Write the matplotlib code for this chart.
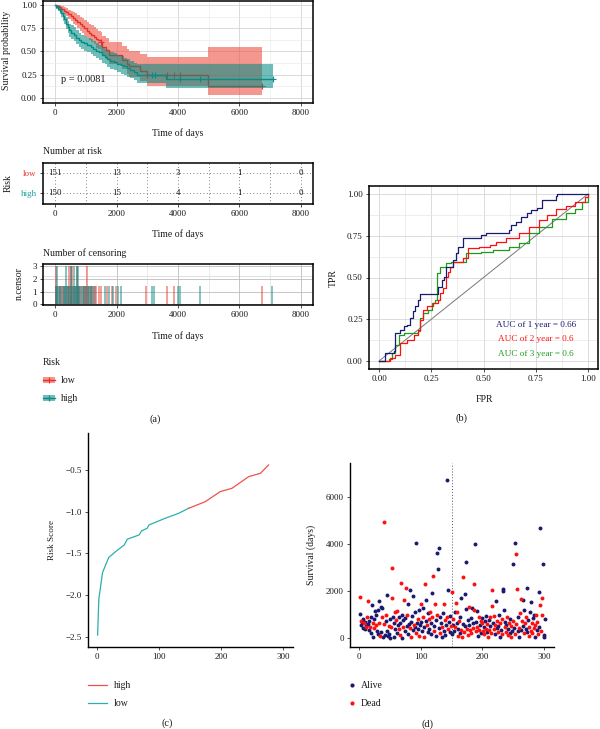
import numpy as np
import matplotlib
matplotlib.use('Agg')
import matplotlib.pyplot as plt
from matplotlib.patches import Rectangle
from matplotlib.lines import Line2D

plt.rcParams['font.family'] = ['Liberation Serif', 'DejaVu Serif']
plt.rcParams['font.size'] = 7
plt.rcParams['axes.unicode_minus'] = True

# ---------------- data: (a) Kaplan-Meier ----------------
low_t = [0, 60, 130, 200, 280, 350, 420, 500, 580, 650, 720, 800, 880, 950, 1020, 1100, 1180,
         1260, 1330, 1400, 1480, 1540, 1640, 1750, 2180, 2350, 2400, 2780, 3000, 4990]
low_s = [1.0, 0.99, 0.98, 0.96, 0.94, 0.92, 0.90, 0.88, 0.86, 0.84, 0.82, 0.79, 0.77, 0.75, 0.72,
         0.70, 0.68, 0.66, 0.63, 0.62, 0.60, 0.55, 0.52, 0.46, 0.41, 0.37, 0.34, 0.29, 0.25, 0.125]
low_up = [1.0, 1.0, 1.0, 0.99, 0.98, 0.97, 0.95, 0.94, 0.92, 0.91, 0.89, 0.87, 0.86, 0.84, 0.82,
          0.80, 0.78, 0.76, 0.74, 0.72, 0.71, 0.67, 0.64, 0.60, 0.56, 0.53, 0.51, 0.47, 0.44, 0.545]
low_lo = [1.0, 0.98, 0.96, 0.93, 0.90, 0.88, 0.85, 0.83, 0.80, 0.78, 0.75, 0.72, 0.70, 0.67, 0.64,
          0.62, 0.60, 0.58, 0.54, 0.53, 0.51, 0.45, 0.42, 0.36, 0.31, 0.26, 0.23, 0.18, 0.13, 0.03]
low_end = 6740

high_t = [0, 40, 90, 140, 190, 240, 290, 340, 400, 450, 520, 600, 680, 760, 850, 940, 1050, 1150,
          1240, 1320, 1430, 1530, 1620, 1700, 1800, 1910, 2020, 2130, 2240, 2350, 2450, 2560, 2670, 3600]
high_s = [1.0, 0.98, 0.96, 0.94, 0.91, 0.88, 0.85, 0.80, 0.76, 0.73, 0.70, 0.68, 0.65, 0.62, 0.60,
          0.59, 0.57, 0.55, 0.53, 0.51, 0.49, 0.46, 0.44, 0.42, 0.40, 0.39, 0.37, 0.355, 0.34, 0.32,
          0.30, 0.28, 0.25, 0.205]
high_up = [1.0, 1.0, 0.99, 0.98, 0.96, 0.94, 0.91, 0.87, 0.83, 0.80, 0.78, 0.76, 0.73, 0.70, 0.68,
           0.67, 0.65, 0.63, 0.61, 0.59, 0.57, 0.55, 0.53, 0.51, 0.49, 0.48, 0.46, 0.45, 0.43, 0.42,
           0.40, 0.38, 0.36, 0.37]
high_lo = [1.0, 0.96, 0.93, 0.90, 0.87, 0.83, 0.79, 0.74, 0.70, 0.66, 0.63, 0.61, 0.58, 0.55, 0.53,
           0.51, 0.49, 0.47, 0.45, 0.43, 0.41, 0.38, 0.36, 0.33, 0.31, 0.30, 0.28, 0.26, 0.25, 0.23,
           0.21, 0.19, 0.16, 0.107]
high_end = 7100

low_cens_marks = [1480, 3000, 3640, 3860, 4080, 6740]
high_cens_marks = [3160, 3250, 4060, 4730, 7100]
p_value_text = "p = 0.0081"

# number at risk
risk_times = [0, 2000, 4000, 6000, 8000]
risk_low = [151, 13, 3, 1, 0]
risk_high = [150, 15, 4, 1, 0]

# number of censoring
cens_low_t = [16, 450, 504, 558, 699, 1046,
              30, 90, 150, 200, 260, 300, 380, 420, 480, 530, 600, 650, 720, 760, 820, 870, 930,
              980, 1010, 1080, 1120, 1180, 1230, 1280, 1317, 1427, 1480, 1675, 1837, 1968, 2975,
              3648, 3865, 6736]
cens_low_n = [3, 3, 3, 3, 3, 3] + [1.45] * 34
cens_high_t = [70, 341, 504, 612, 699, 742,
               20, 60, 110, 170, 230, 280, 320, 360, 400, 460, 520, 570, 630, 680, 740, 790, 850,
               900, 950, 1000, 1060, 1100, 1150, 1200, 1260, 1620, 1750, 1892, 2043, 2130, 3160,
               3214, 4006, 4060, 4731, 7062]
cens_high_n = [3, 3, 3, 3, 3, 3] + [1.45] * 36

# ---------------- data: (b) ROC ----------------
fpr1 = [0.0, 0.029, 0.068, 0.076, 0.10, 0.116, 0.132, 0.148, 0.16, 0.17, 0.183, 0.195, 0.275,
        0.283, 0.299, 0.31, 0.322, 0.354, 0.37, 0.378, 0.402, 0.48, 0.489, 0.513, 0.624, 0.632,
        0.656, 0.679, 0.711, 0.727, 0.759, 0.783, 0.846, 0.854, 1.0]
tpr1 = [0.0, 0.046, 0.056, 0.166, 0.186, 0.206, 0.216, 0.256, 0.296, 0.326, 0.365, 0.40, 0.40,
        0.445, 0.485, 0.505, 0.565, 0.605, 0.645, 0.685, 0.735, 0.735, 0.755, 0.765, 0.785, 0.815,
        0.835, 0.865, 0.885, 0.905, 0.92, 0.968, 0.988, 1.0, 1.0]
fpr2 = [0.0, 0.037, 0.052, 0.076, 0.10, 0.132, 0.164, 0.187, 0.195, 0.211, 0.227, 0.259, 0.283,
        0.29, 0.306, 0.322, 0.33, 0.338, 0.354, 0.386, 0.402, 0.425, 0.48, 0.529, 0.56, 0.608,
        0.671, 0.719, 0.767, 0.806, 0.846, 0.894, 0.941, 0.989, 1.0]
tpr2 = [0.0, 0.0, 0.016, 0.036, 0.106, 0.126, 0.156, 0.186, 0.246, 0.306, 0.326, 0.346, 0.365,
        0.405, 0.435, 0.505, 0.535, 0.565, 0.595, 0.595, 0.615, 0.675, 0.685, 0.695, 0.715, 0.735,
        0.769, 0.805, 0.845, 0.874, 0.91, 0.93, 0.955, 0.985, 1.0]
fpr3 = [0.0, 0.045, 0.06, 0.076, 0.092, 0.116, 0.187, 0.195, 0.211, 0.235, 0.251, 0.267, 0.275,
        0.275, 0.29, 0.322, 0.346, 0.386, 0.418, 0.489, 0.544, 0.624, 0.671, 0.719, 0.767, 0.83,
        0.894, 0.941, 0.973, 1.0]
tpr3 = [0.0, 0.01, 0.046, 0.096, 0.156, 0.166, 0.176, 0.256, 0.286, 0.306, 0.346, 0.365, 0.405,
        0.525, 0.565, 0.585, 0.595, 0.595, 0.645, 0.655, 0.665, 0.685, 0.709, 0.765, 0.805, 0.849,
        0.889, 0.91, 0.955, 1.0]
auc_labels = ["AUC of 1 year = 0.66", "AUC of 2 year = 0.6", "AUC of 3 year = 0.6"]

# ---------------- data: (c) risk score ----------------
rs_x = [1, 3, 9, 14, 19, 30, 44, 49, 68, 72, 81, 84, 110, 132, 148,
        175, 199, 218, 245, 264, 277]
rs_y = [-2.48, -2.05, -1.73, -1.64, -1.55, -1.48, -1.40, -1.33, -1.28, -1.23, -1.20, -1.16,
        -1.08, -1.02, -0.96, -0.88, -0.76, -0.72, -0.58, -0.54, -0.44]
rs_split = 148

# ---------------- data: (d) survival status ----------------
surv_days = [
    1007, 1758, 560, 740, 680, 810, 430, 620, 380, 700,
    520, 450, 880, 600, 1588, 350, 720, 480, 910, 200,
    1404, 50, 660, 800, 420, 1150, 980, 560, 300, 1200,
    160, 1588, 640, 70, 260, 1300, 880, 1262, 40, 600,
    4949, 120, 720, 980, 300, 1815, 70, 520, 180, 0,
    800, 450, 1688, 2964, 880, 30, 620, 1100, 400, 760,
    200, 1163, 560, 380, 900, 120, 640, 2354, 20, 1000,
    480, 760, 1617, 300, 860, 2141, 520, 978, 150, 1446,
    600, 2028, 420, 700, 50, 940, 340, 1787, 560, 480,
    1100, 200, 4055, 640, 820, 380, 1200, 100, 560, 1446,
    680, 300, 1262, 900, 460, 60, 2297, 740, 1617, 560,
    1050, 240, 820, 400, 1120, 640, 180, 880, 1928, 2652,
    520, 300, 1446, 760, 100, 980, 3630, 2950, 420, 3829,
    907, 200, 640, 30, 480, 1050, 1446, 300, 760, 120,
    560, 880, 6750, 2042, 400, 700, 250, 940, 500, 180,
    1943, 560, 820, 300, 1120, 460, 1503, 1120, 640, 80,
    380, 720, 200, 900, 340, 1688, 40, 600, 2609, 260,
    1872, 500, 1220, 3233, 380, 760, 120, 1300, 560, 320,
    840, 200, 1260, 420, 660, 2283, 1191, 4013, 280, 700,
    1163, 460, 100, 880, 340, 560, 740, 200, 620, 860,
    300, 480, 160, 720, 400, 920, 260, 580, 60, 780,
    340, 500, 900, 200, 1361, 2042, 640, 380, 936, 150,
    560, 1588, 420, 720, 260, 500, 978, 30, 640, 340,
    820, 180, 2099, 2000, 1191, 460, 700, 240, 560, 900,
    120, 380, 660, 200, 820, 30, 500, 300, 740, 3148,
    420, 4041, 160, 3588, 600, 2099, 280, 880, 440, 60,
    1078, 1645, 340, 720, 500, 1617, 200, 1200, 620, 380,
    900, 2141, 260, 760, 100, 460, 1100, 300, 1546, 640,
    200, 840, 420, 1000, 60, 540, 980, 320, 700, 150,
    480, 1957, 4694, 1404, 280, 1688, 960, 3162, 40, 120,
    800]
dead = [
    0, 1, 0, 1, 0, 0, 0, 1, 0, 0,  0, 1, 1, 0, 1, 0, 0, 1, 0, 0,
    0, 0, 1, 0, 1, 0, 0, 1, 0, 0,  0, 0, 1, 1, 0, 0, 1, 0, 0, 1,
    1, 0, 0, 1, 0, 0, 0, 1, 0, 0,  0, 1, 1, 1, 0, 0, 0, 1, 0, 1,
    0, 1, 0, 1, 0, 1, 0, 1, 0, 0,  1, 0, 1, 0, 0, 1, 0, 1, 0, 0,
    0, 0, 1, 0, 1, 0, 0, 0, 1, 0,  0, 1, 0, 0, 1, 0, 0, 1, 0, 1,
    0, 0, 0, 1, 0, 1, 1, 0, 0, 1,  0, 0, 1, 0, 1, 0, 0, 1, 0, 1,
    0, 1, 1, 0, 0, 1, 0, 0, 0, 0,  0, 1, 0, 0, 1, 0, 1, 0, 1, 0,
    0, 1, 0, 0, 1, 0, 0, 0, 1, 0,  1, 0, 1, 0, 0, 1, 1, 1, 0, 1,
    0, 1, 0, 0, 1, 0, 1, 0, 1, 1,  0, 0, 0, 0, 1, 0, 1, 1, 0, 1,
    0, 1, 0, 1, 0, 1, 1, 0, 1, 0,  0, 1, 0, 1, 1, 0, 1, 0, 1, 0,
    1, 0, 1, 0, 1, 0, 0, 1, 1, 0,  1, 0, 1, 1, 1, 1, 0, 1, 1, 0,
    1, 0, 0, 1, 1, 0, 0, 0, 1, 0,  1, 1, 0, 0, 0, 1, 0, 1, 0, 1,
    1, 0, 1, 0, 0, 1, 1, 0, 1, 0,  0, 0, 1, 1, 1, 1, 0, 0, 1, 0,
    1, 1, 0, 1, 0, 0, 1, 0, 1, 0,  1, 0, 0, 0, 1, 1, 0, 1, 0, 1,
    1, 0, 1, 0, 0, 1, 1, 0, 1, 1,  0, 0, 0, 1, 1, 1, 1, 0, 0, 0,
    0]
cutoff_index = 150.5

# ---------------- style ----------------
RED_LINE = '#E8302A'
RED_FILL = '#ED5243'
TEAL_LINE = '#138A87'
TEAL_FILL = '#008C82'
NAVY = '#1A1A6E'
RED = '#FF1010'
GREEN = '#1E9A1E'
TXT = '#1a1a1a'
TICK = 6.5
LAB = 7

W, H = 600, 729
fig = plt.figure(figsize=(6, 7.29), dpi=100)


def add_ax(l, t, r, b):
    return fig.add_axes([l / W, 1 - b / H, (r - l) / W, (b - t) / H])


def tick_style(ax):
    ax.tick_params(axis='both', labelsize=TICK, length=2.5, width=0.6, pad=2,
                   colors='#333333', labelcolor=TXT)


def step_lookup(ts, ss, t):
    i = np.searchsorted(ts, t, side='right') - 1
    return ss[max(i, 0)]


# ---------- (a) KM ----------
ax1 = add_ax(43, 0.5, 312.8, 103)
ax1.set_xlim(-400, 8400)
ax1.set_ylim(-0.054, 1.048)
ax1.set_xticks([0, 2000, 4000, 6000, 8000])
ax1.set_xticks([1000, 3000, 5000, 7000], minor=True)
ax1.set_yticks([0, 0.25, 0.5, 0.75, 1.0])
ax1.set_yticks([0.125, 0.375, 0.625, 0.875], minor=True)
ax1.set_yticklabels(['0.00', '0.25', '0.50', '0.75', '1.00'])
ax1.grid(True, which='major', color='#d4d4d4', lw=0.6)
ax1.grid(True, which='minor', color='#ececec', lw=0.5)
ax1.tick_params(which='minor', length=0)
ax1.set_axisbelow(True)
tick_style(ax1)
for s in ax1.spines.values():
    s.set_linewidth(1.1)

lt = np.array(low_t + [low_end])
ht = np.array(high_t + [high_end])
ax1.fill_between(lt, low_lo + [low_lo[-1]], low_up + [low_up[-1]], step='post',
                 color=RED_FILL, alpha=0.6, lw=0, zorder=2)
ax1.step(lt, low_s + [low_s[-1]], where='post', color=RED_LINE, lw=1.0, zorder=3)
ax1.step(ht, high_s + [high_s[-1]], where='post', color=TEAL_LINE, lw=1.0, zorder=3)
ax1.plot(low_cens_marks, [step_lookup(low_t, low_s, t) for t in low_cens_marks], '+',
         color=RED_LINE, ms=4, mew=0.8, zorder=3)
ax1.plot(high_cens_marks, [step_lookup(high_t, high_s, t) for t in high_cens_marks], '+',
         color=TEAL_LINE, ms=4, mew=0.8, zorder=3)
ax1.fill_between(ht, high_lo + [high_lo[-1]], high_up + [high_up[-1]], step='post',
                 color=TEAL_FILL, alpha=0.56, lw=0, zorder=4)
ax1.text(184, 0.196, p_value_text, fontsize=7.5, color=TXT, ha='left', va='center', zorder=5)

# ---------- (a) risk table ----------
ax2 = add_ax(43, 163, 312.8, 204)
ax2.set_xlim(-400, 8400)
ax2.set_ylim(0.45, 2.5)
ax2.set_xticks(risk_times)
ax2.set_yticks([2, 1])
ax2.set_yticklabels(['low', 'high'])
tick_style(ax2)
ax2.get_yticklabels()[0].set_color(RED_LINE)
ax2.get_yticklabels()[1].set_color('#1BA3A0')
for s in ax2.spines.values():
    s.set_linewidth(1.1)
for xv in range(0, 8001, 1000):
    ax2.axvline(xv, color='#555555', lw=0.6, ls=(0, (1, 3)), zorder=1)
for yv in (1, 2):
    ax2.axhline(yv, color='#555555', lw=0.6, ls=(0, (1, 3)), zorder=1)
for t, a, b in zip(risk_times, risk_low, risk_high):
    ax2.text(t, 2, str(a), ha='center', va='center', fontsize=6.3, color=TXT, zorder=3)
    ax2.text(t, 1, str(b), ha='center', va='center', fontsize=6.3, color=TXT, zorder=3)

# ---------- (a) censoring ----------
ax3 = add_ax(43, 264, 312.8, 305)
ax3.set_xlim(-400, 8400)
ax3.set_ylim(-0.055, 3.16)
ax3.set_xticks([0, 2000, 4000, 6000, 8000])
ax3.set_xticks([1000, 3000, 5000, 7000], minor=True)
ax3.set_yticks([0, 1, 2, 3])
ax3.grid(True, which='major', color='#bdbdbd', lw=0.6)
ax3.grid(True, which='minor', color='#e6e6e6', lw=0.6)
ax3.axhline(2.25, color='#e2e2e2', lw=0.8, zorder=0)
ax3.tick_params(which='minor', length=0)
ax3.set_axisbelow(True)
tick_style(ax3)
for s in ax3.spines.values():
    s.set_linewidth(1.1)
ax3.vlines(cens_low_t, 0, cens_low_n, color=RED_LINE, lw=1.2, alpha=0.55, zorder=2)
ax3.vlines(cens_high_t, 0, cens_high_n, color=TEAL_LINE, lw=1.2, alpha=0.6, zorder=2)

# ---------- (b) ROC ----------
ax4 = add_ax(369, 186, 598, 369)
ax4.set_xlim(-0.05, 1.05)
ax4.set_ylim(-0.05, 1.05)
ticks = [0, 0.25, 0.5, 0.75, 1.0]
ax4.set_xticks(ticks)
ax4.set_yticks(ticks)
ax4.set_xticklabels(['0.00', '0.25', '0.50', '0.75', '1.00'])
ax4.set_yticklabels(['0.00', '0.25', '0.50', '0.75', '1.00'])
ax4.set_xticks([0.125, 0.375, 0.625, 0.875], minor=True)
ax4.set_yticks([0.125, 0.375, 0.625, 0.875], minor=True)
ax4.grid(True, which='major', color='#d6d6d6', lw=0.6)
ax4.grid(True, which='minor', color='#e8e8e8', lw=0.5)
ax4.tick_params(which='minor', length=0)
ax4.set_axisbelow(True)
tick_style(ax4)
for s in ax4.spines.values():
    s.set_linewidth(1.1)
ax4.plot([0, 1], [0, 1], color='#777777', lw=0.7)
ax4.plot(fpr3, tpr3, color=GREEN, lw=0.9, drawstyle='steps-post')
ax4.plot(fpr2, tpr2, color=RED, lw=0.9, drawstyle='steps-post')
ax4.plot(fpr1, tpr1, color=NAVY, lw=0.9, drawstyle='steps-post')
for lab, yv, col in zip(auc_labels, [0.215, 0.128, 0.042], [NAVY, RED, GREEN]):
    ax4.text(0.752, yv, lab, color=col, fontsize=6.6, ha='center', va='center')

# ---------- (c) risk score ----------
ax5 = add_ax(88.3, 433, 292.7, 646.7)
ax5.set_xlim(-14, 316)
ax5.set_ylim(-2.62, -0.057)
ax5.set_xticks([0, 100, 200, 300])
ax5.set_yticks([-2.5, -2.0, -1.5, -1.0, -0.5])
for s in ('top', 'right'):
    ax5.spines[s].set_visible(False)
for s in ('left', 'bottom'):
    ax5.spines[s].set_linewidth(1.0)
tick_style(ax5)
rx = np.array(rs_x)
ry = np.array(rs_y)
mlow = rx <= rs_split
mhigh = rx >= rs_split
ax5.plot(rx[mlow], ry[mlow], color='#2AB0AC', lw=0.9)
ax5.plot(rx[mhigh], ry[mhigh], color='#F0504A', lw=0.9)

# ---------- (d) survival status ----------
ax6 = add_ax(350, 463.3, 554, 646.7)
ax6.set_xlim(-14.6, 316)
ax6.set_ylim(-370, 7440)
ax6.set_xticks([0, 100, 200, 300])
ax6.set_yticks([0, 2000, 4000, 6000])
for s in ('top', 'right'):
    ax6.spines[s].set_visible(False)
for s in ('left', 'bottom'):
    ax6.spines[s].set_linewidth(1.0)
tick_style(ax6)
idx = np.arange(1, len(surv_days) + 1)
sd = np.array(surv_days)
dd = np.array(dead)
ax6.scatter(idx[dd == 0], sd[dd == 0], s=8, color=NAVY, lw=0, zorder=3)
ax6.scatter(idx[dd == 1], sd[dd == 1], s=8, color=RED, lw=0, zorder=3)
ax6.axvline(cutoff_index, color='#555555', lw=0.7, ls=(0, (1, 2)), zorder=2)

# ---------- overlay texts ----------
ov = fig.add_axes([0, 0, 1, 1], facecolor='none')
ov.set_xlim(0, W)
ov.set_ylim(H, 0)
ov.axis('off')


def T(x, y, s, **kw):
    kw.setdefault('fontsize', LAB)
    kw.setdefault('color', TXT)
    kw.setdefault('ha', 'center')
    kw.setdefault('va', 'center')
    ov.text(x, y, s, **kw)


T(6.5, 50, 'Survival probability', rotation=90)
T(178, 133, 'Time of days')
T(43, 151.5, 'Number at risk', ha='left')
T(8, 183, 'Risk', rotation=90)
T(178, 234, 'Time of days')
T(43, 253, 'Number of censoring', ha='left')
T(19, 284, 'n.censor', rotation=90)
T(178, 336, 'Time of days')
T(43, 362, 'Risk', ha='left')
# legend (a)
for yy, fc, al, lc, lab in [(380, RED_FILL, 0.6, RED_LINE, 'low'),
                            (398, TEAL_FILL, 0.56, TEAL_LINE, 'high')]:
    ov.add_patch(Rectangle((43, yy - 3.2), 12, 6.4, facecolor=fc, alpha=al, edgecolor='none'))
    ov.add_line(Line2D([43, 55], [yy, yy], color=lc, lw=1.0))
    ov.plot([49], [yy], '+', color=lc, ms=4, mew=0.8)
    T(61, yy, lab, ha='left')
T(155, 419, '(a)', fontsize=7.5)

T(333, 278, 'TPR', rotation=90)
T(484, 399, 'FPR')
T(462, 418, '(b)', fontsize=7.5)

T(51.5, 540, 'Risk Score', rotation=90, fontsize=6.6)
ov.add_line(Line2D([88, 107], [685, 685], color='#F0504A', lw=0.9))
ov.add_line(Line2D([88, 107], [703, 703], color='#2AB0AC', lw=0.9))
T(114, 685, 'high', ha='left')
T(114, 703, 'low', ha='left')
T(167, 723, '(c)', fontsize=7.5)

T(311.5, 555, 'Survival (days)', rotation=90)
ov.scatter([352.3], [685], s=9, color=NAVY, lw=0)
ov.scatter([352.3], [703], s=9, color=RED, lw=0)
T(361, 685, 'Alive', ha='left')
T(361, 703, 'Dead', ha='left')
T(427, 724, '(d)', fontsize=7.5)

fig.savefig('out.png', dpi=100)
